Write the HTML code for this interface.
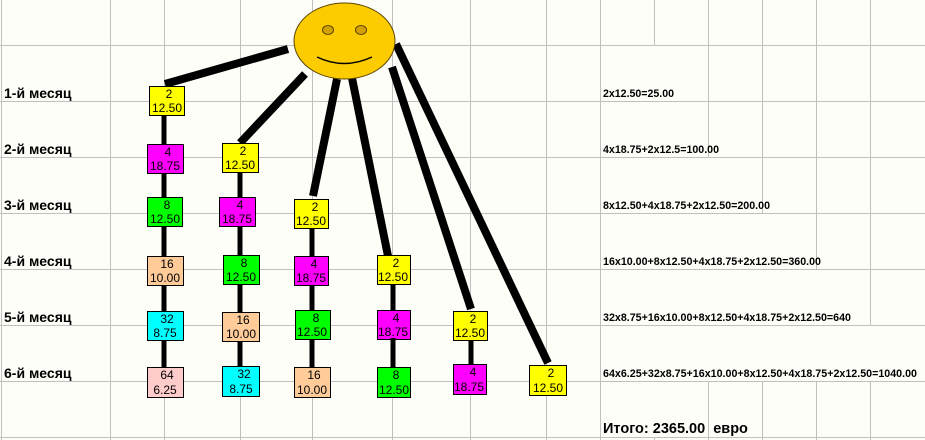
<!DOCTYPE html>
<html><head><meta charset="utf-8"><style>
html,body{margin:0;padding:0;background:#fefef8;}
svg{display:block;}
text{font-family:"Liberation Sans",Arial,sans-serif;}
.m{font-weight:bold;font-size:14px;}
.f{font-weight:bold;font-size:11px;}
.b{font-size:12px;}
</style></head><body>
<svg width="925" height="440" xmlns="http://www.w3.org/2000/svg">
<rect width="925" height="440" fill="#fefef8"/>
<g stroke="#c0c0c0" stroke-width="1">
<line x1="0" y1="45.5" x2="925" y2="45.5"/>
<line x1="0" y1="101.5" x2="925" y2="101.5"/>
<line x1="0" y1="157.5" x2="925" y2="157.5"/>
<line x1="0" y1="213.5" x2="925" y2="213.5"/>
<line x1="0" y1="269.5" x2="925" y2="269.5"/>
<line x1="0" y1="325.5" x2="925" y2="325.5"/>
<line x1="0" y1="381.5" x2="925" y2="381.5"/>
<line x1="0" y1="437.5" x2="925" y2="437.5"/>
<line x1="1.5" y1="0" x2="1.5" y2="440"/>
<line x1="110.5" y1="0" x2="110.5" y2="440"/>
<line x1="164.5" y1="0" x2="164.5" y2="440"/>
<line x1="240.5" y1="0" x2="240.5" y2="440"/>
<line x1="312.5" y1="0" x2="312.5" y2="440"/>
<line x1="392.5" y1="0" x2="392.5" y2="440"/>
<line x1="470.5" y1="0" x2="470.5" y2="440"/>
<line x1="546.5" y1="0" x2="546.5" y2="440"/>
<line x1="600.5" y1="0" x2="600.5" y2="440"/>
<line x1="654.5" y1="0" x2="654.5" y2="45"/>
<line x1="654.5" y1="437" x2="654.5" y2="440"/>
<line x1="708.5" y1="0" x2="708.5" y2="157"/>
<line x1="708.5" y1="381" x2="708.5" y2="440"/>
<line x1="762.5" y1="0" x2="762.5" y2="213"/>
<line x1="762.5" y1="381" x2="762.5" y2="440"/>
<line x1="816.5" y1="0" x2="816.5" y2="269"/>
<line x1="816.5" y1="381" x2="816.5" y2="440"/>
<line x1="870.5" y1="0" x2="870.5" y2="325"/>
<line x1="870.5" y1="381" x2="870.5" y2="440"/>
</g>
<g fill="#000">
<text x="4" y="98" class="m">1-й месяц</text>
<text x="4" y="154" class="m">2-й месяц</text>
<text x="4" y="210" class="m">3-й месяц</text>
<text x="4" y="266" class="m">4-й месяц</text>
<text x="4" y="322" class="m">5-й месяц</text>
<text x="4" y="378" class="m">6-й месяц</text>
</g>
<g fill="#000">
<text x="603" y="97" class="f" textLength="71" lengthAdjust="spacingAndGlyphs">2x12.50=25.00</text>
<text x="603" y="153" class="f" textLength="116" lengthAdjust="spacingAndGlyphs">4x18.75+2x12.5=100.00</text>
<text x="603" y="209" class="f" textLength="167" lengthAdjust="spacingAndGlyphs">8x12.50+4x18.75+2x12.50=200.00</text>
<text x="603" y="265" class="f" textLength="218" lengthAdjust="spacingAndGlyphs">16x10.00+8x12.50+4x18.75+2x12.50=360.00</text>
<text x="603" y="321" class="f" textLength="248" lengthAdjust="spacingAndGlyphs">32x8.75+16x10.00+8x12.50+4x18.75+2x12.50=640</text>
<text x="603" y="377" class="f" textLength="314" lengthAdjust="spacingAndGlyphs">64x6.25+32x8.75+16x10.00+8x12.50+4x18.75+2x12.50=1040.00</text>
<text x="603" y="433" style="font-weight:bold;font-size:14.5px;white-space:pre" xml:space="preserve">Итого: 2365.00  евро</text>
</g>
<g stroke="#000" stroke-width="8">
<line x1="288" y1="49" x2="165" y2="84"/>
<line x1="305" y1="74" x2="240" y2="143"/>
<line x1="337" y1="79" x2="313" y2="196"/>
<line x1="352" y1="78" x2="388" y2="256"/>
<line x1="392" y1="67" x2="471" y2="309"/>
<line x1="396" y1="44" x2="548" y2="363"/>
</g>
<g stroke="#000" stroke-width="5">
<line x1="164" y1="114" x2="164" y2="368"/>
<line x1="240" y1="171" x2="240" y2="368"/>
<line x1="312" y1="228" x2="312" y2="368"/>
<line x1="393" y1="283" x2="393" y2="368"/>
<line x1="471" y1="340" x2="471" y2="365"/>
</g>
<ellipse cx="344.5" cy="41" rx="50.5" ry="38" fill="#fccc00" stroke="#5a4500" stroke-width="1"/>
<ellipse cx="328" cy="30" rx="5.5" ry="4.5" fill="#d4a200" stroke="#5a4500" stroke-width="1"/>
<ellipse cx="361" cy="30" rx="5.5" ry="4.5" fill="#d4a200" stroke="#5a4500" stroke-width="1"/>
<path d="M317 57 Q344 70 372 57" fill="none" stroke="#000" stroke-width="1.5"/>
<g stroke="#000" stroke-width="1">
<rect x="149.5" y="86.5" width="35" height="29" fill="#ffff00"/>
<rect x="147.5" y="144.5" width="36" height="29" fill="#ff00ff"/>
<rect x="222.5" y="143.5" width="36" height="29" fill="#ffff00"/>
<rect x="147.5" y="197.5" width="35" height="29" fill="#00ff00"/>
<rect x="219.5" y="197.5" width="36" height="29" fill="#ff00ff"/>
<rect x="294.5" y="199.5" width="34" height="29" fill="#ffff00"/>
<rect x="147.5" y="256.5" width="36" height="29" fill="#ffcc99"/>
<rect x="223.5" y="255.5" width="36" height="29" fill="#00ff00"/>
<rect x="294.5" y="256.5" width="34" height="29" fill="#ff00ff"/>
<rect x="377.5" y="255.5" width="33" height="29" fill="#ffff00"/>
<rect x="147.5" y="311.5" width="36" height="29" fill="#00ffff"/>
<rect x="222.5" y="312.5" width="37" height="29" fill="#ffcc99"/>
<rect x="295.5" y="310.5" width="35" height="29" fill="#00ff00"/>
<rect x="377.5" y="310.5" width="33" height="29" fill="#ff00ff"/>
<rect x="453.5" y="311.5" width="34" height="29" fill="#ffff00"/>
<rect x="147.5" y="367.5" width="36" height="30" fill="#ffcccc"/>
<rect x="222.5" y="366.5" width="37" height="30" fill="#00ffff"/>
<rect x="294.5" y="367.5" width="36" height="30" fill="#ffcc99"/>
<rect x="377.5" y="367.5" width="33" height="30" fill="#00ff00"/>
<rect x="453.5" y="364.5" width="33" height="30" fill="#ff00ff"/>
<rect x="529.5" y="365.5" width="37" height="30" fill="#ffff00"/>
</g>
<g stroke="#000" stroke-width="5">
<line x1="393" y1="338" x2="393" y2="350"/>
</g>
<g class="b" fill="#000" text-anchor="middle">
<text x="169" y="98">2</text><text x="167" y="112">12.50</text>
<text x="168" y="156">4</text><text x="165" y="170">18.75</text>
<text x="243" y="155">2</text><text x="240" y="169">12.50</text>
<text x="167" y="209">8</text><text x="165" y="223">12.50</text>
<text x="240" y="209">4</text><text x="237" y="223">18.75</text>
<text x="315" y="211">2</text><text x="311" y="225">12.50</text>
<text x="167" y="268">16</text><text x="165" y="282">10.00</text>
<text x="244" y="267">8</text><text x="241" y="281">12.50</text>
<text x="314" y="268">4</text><text x="311" y="282">18.75</text>
<text x="396" y="267">2</text><text x="393" y="281">12.50</text>
<text x="167" y="323">32</text><text x="165" y="337">8.75</text>
<text x="243" y="324">16</text><text x="241" y="338">10.00</text>
<text x="316" y="322">8</text><text x="312" y="336">12.50</text>
<text x="396" y="322">4</text><text x="393" y="336">18.75</text>
<text x="473" y="323">2</text><text x="470" y="337">12.50</text>
<text x="167" y="379">64</text><text x="165" y="394">6.25</text>
<text x="244" y="378">32</text><text x="241" y="393">8.75</text>
<text x="314" y="379">16</text><text x="312" y="394">10.00</text>
<text x="396" y="379">8</text><text x="394" y="394">12.50</text>
<text x="473" y="376">4</text><text x="469" y="391">18.75</text>
<text x="551" y="377">2</text><text x="548" y="392">12.50</text>
</g>
</svg>
</body></html>
